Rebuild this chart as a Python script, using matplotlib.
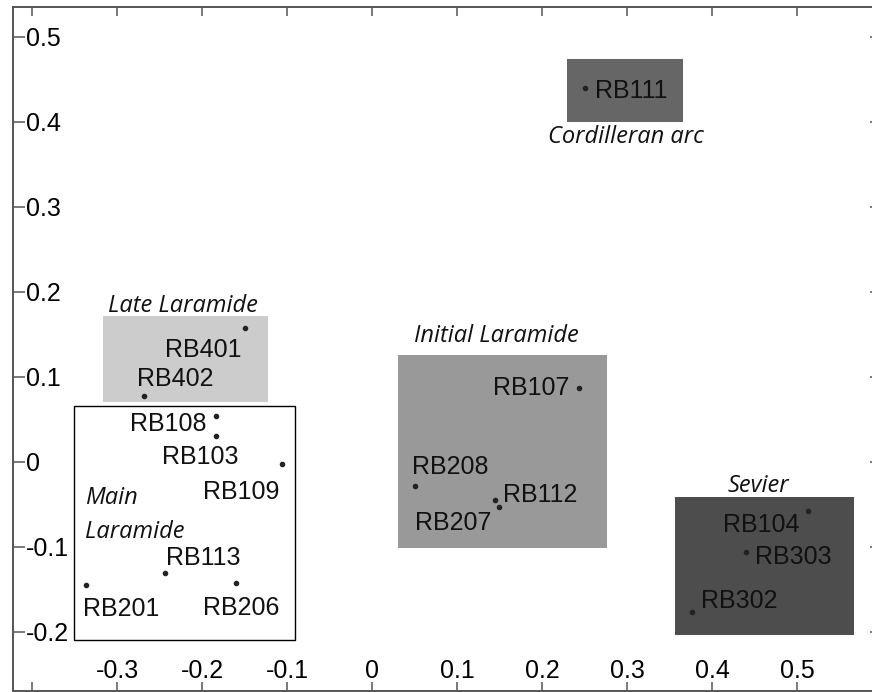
import matplotlib.pyplot as plt
from matplotlib.patches import Rectangle

# sample coordinates
samples = ["RB401", "RB402", "RB108", "RB103", "RB109", "RB113", "RB201", "RB206",
           "RB107", "RB208", "RB112", "RB207", "RB104", "RB303", "RB302", "RB111"]
xs = [-0.149, -0.268, -0.184, -0.183, -0.106, -0.244, -0.337, -0.160,
      0.243, 0.051, 0.145, 0.149, 0.513, 0.440, 0.377, 0.251]
ys = [0.158, 0.077, 0.054, 0.030, -0.002, -0.131, -0.145, -0.142,
      0.087, -0.028, -0.045, -0.053, -0.058, -0.106, -0.177, 0.440]

# group envelopes: x0, x1, y0, y1
groups = ["Late Laramide", "Main Laramide", "Initial Laramide", "Sevier", "Cordilleran arc"]
box_x0 = [-0.317, -0.351, 0.030, 0.357, 0.229]
box_x1 = [-0.122, -0.091, 0.276, 0.567, 0.366]
box_y0 = [0.070, -0.209, -0.101, -0.204, 0.400]
box_y1 = [0.172, 0.066, 0.126, -0.041, 0.474]

xticks = [-0.4, -0.3, -0.2, -0.1, 0, 0.1, 0.2, 0.3, 0.4, 0.5]
xticklabels = ["", "-0.3", "-0.2", "-0.1", "0", "0.1", "0.2", "0.3", "0.4", "0.5"]
yticks = [-0.2, -0.1, 0, 0.1, 0.2, 0.3, 0.4, 0.5]
yticklabels = ["-0.2", "-0.1", "0", "0.1", "0.2", "0.3", "0.4", "0.5"]

box_face = {"Late Laramide": "#cccccc", "Main Laramide": "white",
            "Initial Laramide": "#999999", "Sevier": "#4d4d4d",
            "Cordilleran arc": "#666666"}
# where each group name is written (x, y, ha)
group_text = {"Late Laramide": (-0.223, 0.183, "center"),
              "Main Laramide": (-0.3375, -0.0625, "left"),
              "Initial Laramide": (0.146, 0.148, "center"),
              "Sevier": (0.4545, -0.028, "center"),
              "Cordilleran arc": (0.299, 0.382, "center")}
# label offset from the dot in pixels (dx, dy) and alignment
label_pos = {"RB401": (-4, -20, "right"), "RB402": (-7, 20, "left"),
             "RB108": (-9, -5, "right"), "RB103": (-54, -18, "left"),
             "RB109": (-3, -26, "right"), "RB113": (1, 18, "left"),
             "RB201": (-3, -21, "left"), "RB206": (-33, -23, "left"),
             "RB107": (-9, 2, "right"), "RB208": (-3, 21, "left"),
             "RB112": (8, 8, "left"), "RB207": (-7, -14, "right"),
             "RB104": (-9, -11.5, "right"), "RB303": (9, -2, "left"),
             "RB302": (9, 14, "left"), "RB111": (10, -1, "left")}

plt.rcParams["font.family"] = ["Liberation Sans", "DejaVu Sans"]
fig = plt.figure(figsize=(8.72, 6.92), dpi=100)
ax = fig.add_axes([13 / 872, 1 / 692, 869 / 872, 684 / 692])
ax.set_xlim(-0.4224, 0.6)
ax.set_ylim(-0.2694, 0.535)

for g, x0, x1, y0, y1 in zip(groups, box_x0, box_x1, box_y0, box_y1):
    edge = "black" if box_face[g] == "white" else "none"
    ax.add_patch(Rectangle((x0, y0), x1 - x0, y1 - y0, facecolor=box_face[g],
                           edgecolor=edge, lw=1.0, zorder=1))

for g in groups:
    tx, ty, ha = group_text[g]
    txt = g.replace(" ", "\n") if g == "Main Laramide" else g
    ax.text(tx, ty, txt, ha=ha, va="center", style="italic", fontsize=17,
            family=["Open Sans", "DejaVu Sans"], color="#111111",
            linespacing=1.56, zorder=3)

ax.plot(xs, ys, "o", ms=3, color="#222222", zorder=3)
for s, x, y in zip(samples, xs, ys):
    dx, dy, ha = label_pos[s]
    ax.annotate(s, (x, y), xytext=(dx, dy), textcoords="offset pixels",
                ha=ha, va="center_baseline", fontsize=18, color="#111111", zorder=3)

ax.set_xticks(xticks)
ax.set_xticklabels(xticklabels)
ax.set_yticks(yticks)
ax.set_yticklabels(yticklabels)
ax.tick_params(axis="x", direction="in", length=6.5, width=1.1, color="#555555",
               top=True, labelsize=18, pad=-16.5)
ax.tick_params(axis="y", direction="in", length=8.6, width=1.1, color="#555555",
               right=True, labelsize=18, pad=-9.4)
for lbl in ax.get_yticklabels():
    lbl.set_horizontalalignment("left")
for lbl in ax.get_xticklabels():
    lbl.set_verticalalignment("center_baseline")
for sp in ax.spines.values():
    sp.set_color("#555555")
    sp.set_linewidth(1.4)

fig.savefig("out.png", dpi=100)
